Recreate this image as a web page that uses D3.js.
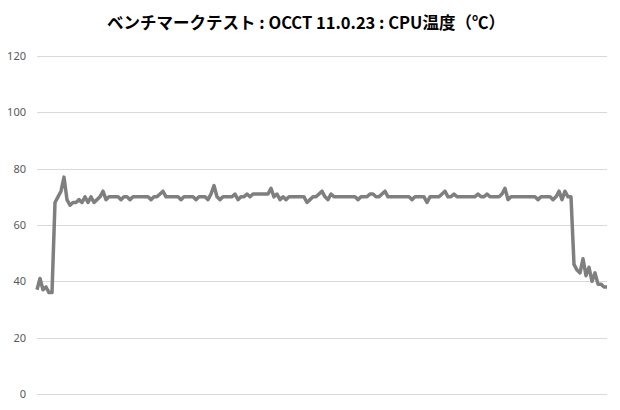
<!DOCTYPE html>
<html>
<head>
<meta charset="utf-8">
<script src="https://cdn.jsdelivr.net/npm/d3@7"></script>
<style>
body{margin:0;background:#fff;}
</style>
</head>
<body>
<div id="chart"></div>
<script>
//chart title
var chartTitle = "ベンチマークテスト : OCCT 11.0.23 : CPU温度（℃）";

//y axis tick labels
var yTicks = [0, 20, 40, 60, 80, 100, 120];

//cpu temperature per sample (C)
var tempValues = [
    37,41,37,38,36,36,68,70,72,77,69,67,
    68,68,69,68,70,68,70,68,69,70,
    72,69,70,70,70,70,69,70,70,69,
    70,70,70,70,70,70,69,70,70,71,
    72,70,70,70,70,70,69,70,70,70,
    70,69,70,70,70,69,71,74,70,69,
    70,70,70,70,71,69,70,70,71,70,
    71,71,71,71,71,71,73,70,71,69,
    70,69,70,70,70,70,70,70,68,69,
    70,70,71,72,70,69,71,70,70,70,
    70,70,70,70,70,69,70,70,70,71,
    71,70,70,71,72,70,70,70,70,70,
    70,70,70,69,70,70,70,70,68,70,
    70,70,70,71,72,70,70,71,70,70,
    70,70,70,70,70,71,70,70,71,70,
    70,70,70,71,73,69,70,70,70,70,
    70,70,70,70,70,69,70,70,70,70,
    69,70,72,69,72,70,70,
    46,44,43,48,42,45,40,43,39,39,38,38
];

var WIDTH = 620;
var HEIGHT = 410;

var svg = d3.select("#chart")
    .append("svg")
    .attr("width", WIDTH)
    .attr("height", HEIGHT)
    .style("font-family", "'Noto Sans CJK JP', 'Noto Sans', sans-serif");

svg.append("rect")
    .attr("width", WIDTH)
    .attr("height", HEIGHT)
    .attr("fill", "#ffffff");

var x = d3.scaleLinear()
    .domain([0, tempValues.length - 1])
    .range([37, 607]);

var y = d3.scaleLinear()
    .domain([0, 120])
    .range([394, 56]);

//grid lines + labels
var yAxis = d3.axisLeft(y)
    .tickValues(yTicks)
    .tickSize(-(607 - 37))
    .tickPadding(11)
    .tickFormat(d3.format("d"));

var g = svg.append("g")
    .attr("transform", "translate(37,0)")
    .call(yAxis);

g.select(".domain").remove();
g.selectAll(".tick line")
    .attr("stroke", "#d9d9d9")
    .attr("stroke-width", 1)
    .attr("shape-rendering", "crispEdges");
g.selectAll(".tick text")
    .attr("fill", "#595959")
    .style("font-size", "11px")
    .style("font-family", "'Noto Sans', sans-serif");

//the temperature line
var line = d3.line()
    .x(function(d, i){ return x(i) })
    .y(function(d){ return y(d) });

svg.append("path")
    .datum(tempValues)
    .attr("d", line)
    .attr("fill", "none")
    .attr("stroke", "#7f7f7f")
    .attr("stroke-width", 3.5)
    .attr("stroke-linejoin", "round");

//title
svg.append("text")
    .attr("x", 306)
    .attr("y", 29)
    .attr("text-anchor", "middle")
    .attr("fill", "#000")
    .style("font-size", "16.5px")
    .style("font-weight", "bold")
    .text(chartTitle);
</script>
</body>
</html>
